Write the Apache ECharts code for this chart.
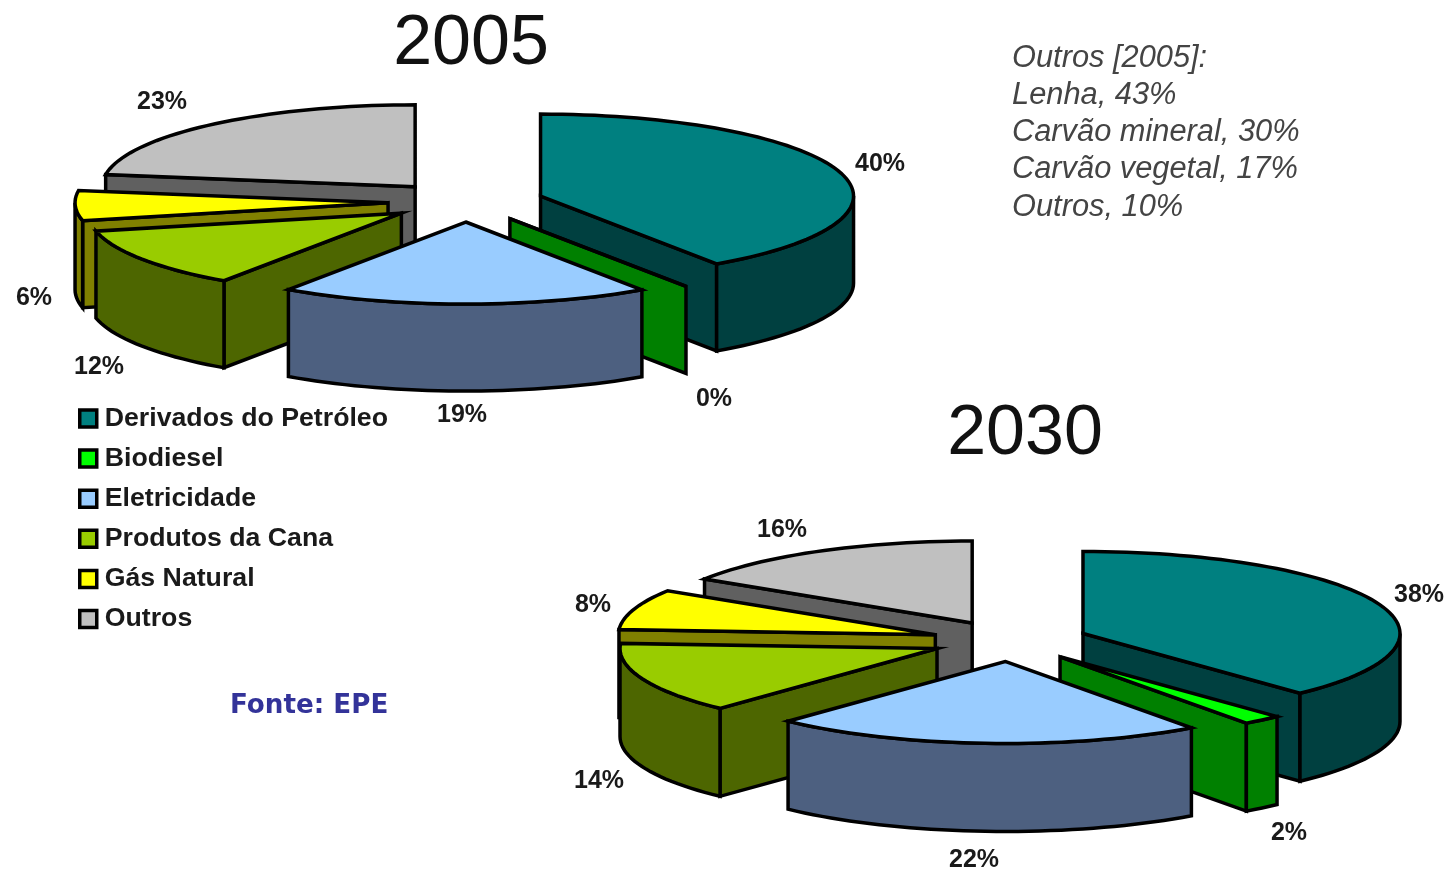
<!DOCTYPE html>
<html>
<head>
<meta charset="utf-8">
<style>
html,body{margin:0;padding:0;background:#fff}
#c{width:1448px;height:873px;filter:blur(0.5px)}
</style>
<script src="https://cdn.jsdelivr.net/npm/echarts@6/dist/echarts.min.js"></script>
</head>
<body>
<div id="c"></div>
<script>
// ---- data ----
const categories = ['Derivados do Petróleo', 'Biodiesel', 'Eletricidade', 'Produtos da Cana', 'Gás Natural', 'Outros'];
const years = ['2005', '2030'];
const values2005 = [40.49, 0, 19.1, 11.9, 5.9, 22.61];
const values2030 = [38, 2, 22, 14, 8, 16];
const outrosNote = ['Outros [2005]:', 'Lenha, 43%', 'Carvão mineral, 30%', 'Carvão vegetal, 17%', 'Outros, 10%'];
const sourceText = 'Fonte: EPE';

// ---- style and layout ----
const topColors  = ['#008080', '#00FF00', '#99CCFF', '#99CC00', '#FFFF00', '#C0C0C0'];
const wallColors = ['#004040', '#008000', '#4D6080', '#4D6600', '#808000', '#606060'];
const drawOrder = [5, 4, 3, 0, 1, 2];
const pieLayouts = [
  {cx: 466, cy: 202, rx: 313, ry: 82, depth: 87, explodeX: 78, explodeY: 20},
  {cx: 1010, cy: 641, rx: 317, ry: 82, depth: 88, explodeX: 78.5, explodeY: 20.5}
];
const labelCenters = [
  [[880,164],[714,399],[462,415],[99,367],[34,298],[162,102]],
  [[1419,595],[1289,833],[974,860],[599,781],[593,605],[782,530]]
];
const allValues = [values2005, values2030];

function arcPoints(c, L, a0, a1) {
  const n = Math.max(2, Math.ceil((a1 - a0) / 2) + 1), pts = [];
  for (let i = 0; i < n; i++) {
    const a = (a0 + (a1 - a0) * i / (n - 1)) * Math.PI / 180;
    pts.push([c[0] + L.rx * Math.sin(a), c[1] - L.ry * Math.cos(a)]);
  }
  return pts;
}
const down = (pts, d) => pts.map(p => [p[0], p[1] + d]);
const strokeStyle = fill => ({fill, stroke: '#000', lineWidth: 3.5, lineJoin: 'miter'});

function sliceRenderer(cat) {
  return function (params, api) {
    const yi = api.value(0), vals = allValues[yi], L = pieLayouts[yi];
    const total = vals.reduce((s, v) => s + v, 0);
    const before = vals.slice(0, cat).reduce((s, v) => s + v, 0);
    const a0 = before / total * 360, a1 = (before + api.value(1)) / total * 360;
    const mid = (a0 + a1) / 2 * Math.PI / 180;
    const c = [L.cx + L.explodeX * Math.sin(mid), L.cy - L.explodeY * Math.cos(mid)];
    const wall = wallColors[cat], top = topColors[cat], children = [];
    const poly = (points, fill, z2) => children.push({type: 'polygon', shape: {points}, style: strokeStyle(fill), z2});
    // radial cut faces: only those turned toward the viewer
    const faces = [];
    if (a0 > 180 && a1 > a0) faces.push(a0);
    if (a1 < 180) faces.push(a1);
    faces.forEach(a => {
      const e = arcPoints(c, L, a, a)[0];
      poly([c, e, [e[0], e[1] + L.depth], [c[0], c[1] + L.depth]], wall, 1);
    });
    // outer rim: only the part that faces the viewer
    const f0 = Math.max(a0, 90), f1 = Math.min(a1, 270);
    if (f1 > f0) {
      const rim = arcPoints(c, L, f0, f1);
      poly(rim.concat(down(rim, L.depth).reverse()), wall, 2);
    }
    // top face
    poly([c].concat(arcPoints(c, L, a0, a1)), top, 3);
    const lc = labelCenters[yi][cat];
    children.push({type: 'text', x: lc[0], y: lc[1], z2: 5, style: {
      text: Math.round(api.value(1)) + '%', align: 'center', verticalAlign: 'middle',
      fontFamily: 'Liberation Sans', fontWeight: 'bold', fontSize: 25, fill: '#1a1a1a'}});
    return {type: 'group', children};
  };
}

const textEl = (x, y, text, style) => ({type: 'text', x, y, style: Object.assign(
  {text, align: 'left', verticalAlign: 'middle', fontFamily: 'Liberation Sans'}, style)});

const chart = echarts.init(document.getElementById('c'), null, {renderer: 'canvas'});
chart.setOption({
  animation: false,
  backgroundColor: '#fff',
  legend: {
    left: 73, top: 400, orient: 'vertical', itemWidth: 17, itemHeight: 17, itemGap: 13.1, icon: 'rect',
    data: categories, selectedMode: false,
    itemStyle: {borderColor: '#000', borderWidth: 3.5},
    textStyle: {fontFamily: 'Liberation Sans', fontWeight: 'bold', fontSize: 26.7, color: '#1a1a1a', padding: [4,0,0,3]}
  },
  graphic: {elements: [
    textEl(471, 45, years[0], {align: 'center', fontSize: 70, fill: '#111'}),
    textEl(1025, 435, years[1], {align: 'center', fontSize: 70, fill: '#111'}),
    ...outrosNote.map((t, i) => textEl(1012, 58 + i * 37.3, t, {fontStyle: 'italic', fontSize: 30.8, fill: '#444'})),
    textEl(230, 706, sourceText, {fontFamily: 'DejaVu Sans', fontWeight: 'bold', fontSize: 26.2, fill: '#333399'})
  ]},
  series: categories.map((name, cat) => ({
    type: 'custom', name, coordinateSystem: 'none', clip: false,
    z: 2 + drawOrder.indexOf(cat),
    itemStyle: {color: topColors[cat]},
    data: years.map((y, yi) => [yi, allValues[yi][cat]]),
    renderItem: sliceRenderer(cat)
  }))
});
</script>
</body>
</html>
